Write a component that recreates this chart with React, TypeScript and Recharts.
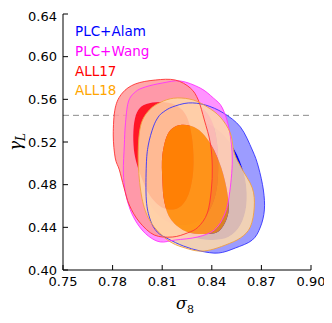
import React from 'react';
import { ScatterChart, Scatter, XAxis, YAxis, ReferenceLine } from 'recharts';

type Pt = [number, number];

const xTicks = [0.75, 0.78, 0.81, 0.84, 0.87, 0.9];
const yTicks = [0.4, 0.44, 0.48, 0.52, 0.56, 0.6, 0.64];
const gammaGR = 0.545;

const seriesNames = ['PLC+Alam', 'PLC+Wang', 'ALL17', 'ALL18'];

// 95% and 68% contours (sigma8, gamma_L)
const alamOuter: Pt[] = [
  [0.8046, 0.5341], [0.8076, 0.5434], [0.8107, 0.5481], [0.8161, 0.5528], [0.8258, 0.5566],
  [0.8361, 0.5547], [0.847, 0.5472], [0.8573, 0.5341], [0.8645, 0.5125], [0.8682, 0.4966],
  [0.8712, 0.475], [0.8718, 0.4563], [0.8694, 0.4403], [0.8645, 0.4281], [0.8542, 0.4206],
  [0.844, 0.4159], [0.833, 0.4178], [0.8228, 0.4225], [0.8137, 0.4291], [0.807, 0.4356],
  [0.8028, 0.4469], [0.8004, 0.4656], [0.8004, 0.4984], [0.8016, 0.5172],
];
const alamInner: Pt[] = [
  [0.8149, 0.5331], [0.827, 0.5406], [0.8391, 0.5359], [0.8482, 0.5247], [0.8554, 0.5078],
  [0.8603, 0.4844], [0.8609, 0.4609], [0.8573, 0.4422], [0.85, 0.4309], [0.8391, 0.4281],
  [0.827, 0.4319], [0.8161, 0.4422], [0.8089, 0.4609], [0.8076, 0.4891], [0.8101, 0.5172],
];
const wangOuter: Pt[] = [
  [0.7865, 0.4919], [0.7871, 0.5172], [0.7877, 0.5359], [0.7895, 0.5575], [0.7937, 0.5669],
  [0.7998, 0.5716], [0.8101, 0.5753], [0.821, 0.5772], [0.833, 0.5706], [0.8409, 0.5613],
  [0.8464, 0.5519], [0.8506, 0.5313], [0.8524, 0.5031], [0.8506, 0.4703], [0.8476, 0.4516],
  [0.8415, 0.4375], [0.8313, 0.4309], [0.8179, 0.4281], [0.8089, 0.4263], [0.8016, 0.4319],
  [0.7955, 0.4422], [0.7907, 0.4563], [0.7877, 0.4731],
];
const wangInner: Pt[] = [
  [0.798, 0.5359], [0.804, 0.5519], [0.8161, 0.5594], [0.83, 0.5556], [0.8391, 0.5425],
  [0.8433, 0.5172], [0.8433, 0.4797], [0.8379, 0.4544], [0.827, 0.4431], [0.8137, 0.445],
  [0.8028, 0.4609], [0.7968, 0.4891], [0.7955, 0.5144],
];
const all17Outer: Pt[] = [
  [0.7816, 0.5519], [0.7859, 0.5659], [0.7937, 0.5744], [0.8058, 0.5781], [0.8179, 0.5781],
  [0.827, 0.5706], [0.8318, 0.5594], [0.8355, 0.5406], [0.8391, 0.5191], [0.8403, 0.4966],
  [0.8397, 0.475], [0.8373, 0.4534], [0.8318, 0.4403], [0.8252, 0.4347], [0.8161, 0.4309],
  [0.8052, 0.4328], [0.7962, 0.4450], [0.7901, 0.4609], [0.7868, 0.4778], [0.7841, 0.4938],
  [0.7816, 0.505], [0.7804, 0.5266],
];
const all17Inner: Pt[] = [
  [0.7931, 0.5388], [0.7955, 0.55], [0.8004, 0.5556], [0.8089, 0.5575], [0.8179, 0.5547],
  [0.8246, 0.5444], [0.8282, 0.5219], [0.8288, 0.4938], [0.8258, 0.4703], [0.8197, 0.4581],
  [0.8107, 0.4581], [0.8028, 0.4694], [0.7974, 0.4872], [0.7937, 0.505], [0.7925, 0.5219],
];
const all18Outer: Pt[] = [
  [0.8107, 0.5584], [0.8191, 0.5613], [0.8288, 0.5594], [0.8373, 0.5528], [0.8451, 0.5434],
  [0.8512, 0.5284], [0.8536, 0.5097], [0.8579, 0.4956], [0.8645, 0.4769], [0.8657, 0.4591],
  [0.8633, 0.4403], [0.8573, 0.43], [0.8482, 0.4234], [0.8391, 0.4188], [0.8318, 0.4178],
  [0.824, 0.4206], [0.8161, 0.4253], [0.8089, 0.4338], [0.8016, 0.4488], [0.7974, 0.4703],
  [0.7955, 0.5031], [0.7968, 0.5341], [0.8022, 0.55],
];
const all18Inner: Pt[] = [
  [0.821, 0.5359], [0.8137, 0.5284], [0.8101, 0.5078], [0.8101, 0.4844], [0.8113, 0.4638],
  [0.8155, 0.4469], [0.8252, 0.4356], [0.8373, 0.4338], [0.8451, 0.4375], [0.85, 0.4534],
  [0.8494, 0.4722], [0.8458, 0.4956], [0.8397, 0.5172], [0.8313, 0.5322],
];

const contours = [
  { outer: alamOuter, inner: alamInner },
  { outer: wangOuter, inner: wangInner },
  { outer: all17Outer, inner: all17Inner },
  { outer: all18Outer, inner: all18Inner },
];

const textColors = ['#0000ff', '#ff00ff', '#ff0000', '#ffa500'];
const ringColors = ['#9c9cff', '#ff80ff', '#ff9a9a', '#ffdaa8'];
const coreColors = ['#0000ff', '#ff00ff', '#ff0000', '#ff9600'];
const edgeColors = ['#3333ff', '#ff33ff', '#ff3333', '#f0a040'];
const layerAlpha = [1, 0.85, 0.85, 0.85];

const toRows = (pts: Pt[]) => pts.map(([x, y]) => ({ x, y }));

// closed Catmull-Rom spline through screen points
function closedPath(pts: { x: number; y: number }[]) {
  const n = pts.length;
  if (!n) return '';
  let d = `M${pts[0].x},${pts[0].y}`;
  for (let i = 0; i < n; i++) {
    const p0 = pts[(i - 1 + n) % n];
    const p1 = pts[i];
    const p2 = pts[(i + 1) % n];
    const p3 = pts[(i + 2) % n];
    const c1x = p1.x + (p2.x - p0.x) / 6;
    const c1y = p1.y + (p2.y - p0.y) / 6;
    const c2x = p2.x - (p3.x - p1.x) / 6;
    const c2y = p2.y - (p3.y - p1.y) / 6;
    d += `C${c1x},${c1y} ${c2x},${c2y} ${p2.x},${p2.y}`;
  }
  return d + 'Z';
}

const fillShape = (split: number, fill: string, alpha: number) => (props: any) => {
  const pts = props.points || [];
  const d = split > 0 ? closedPath(pts.slice(0, split)) + closedPath(pts.slice(split)) : closedPath(pts);
  return <path d={d} fill={fill} fillOpacity={alpha} fillRule="evenodd" stroke="none" />;
};

const edgeShape = (stroke: string) => (props: any) => (
  <path d={closedPath(props.points || [])} fill="none" stroke={stroke} strokeWidth={0.9} />
);

const noDot = () => <g />;

const tickFont = { fill: '#000', fontSize: 13, fontFamily: 'DejaVu Sans' };

export default function App() {
  return (
    <div style={{ position: 'relative', width: 324, height: 315 }}>
      <ScatterChart width={324} height={315} margin={{ top: 6, right: 21, bottom: 0, left: 0 }}>
        <XAxis
          dataKey="x"
          type="number"
          domain={[0.75, 0.9]}
          ticks={xTicks}
          tickFormatter={(v: number) => v.toFixed(2)}
          allowDataOverflow
          height={53}
          stroke="#000"
          tickSize={-5}
          tickMargin={12}
          tick={tickFont}
        />
        <XAxis
          xAxisId="top"
          orientation="top"
          dataKey="x"
          type="number"
          domain={[0.75, 0.9]}
          ticks={xTicks}
          allowDataOverflow
          height={0}
          stroke="#000"
          tickSize={-5}
          tick={false}
        />
        <YAxis
          dataKey="y"
          type="number"
          domain={[0.4, 0.64]}
          ticks={yTicks}
          tickFormatter={(v: number) => v.toFixed(2)}
          allowDataOverflow
          width={55}
          stroke="#000"
          tickSize={-5}
          tickMargin={11}
          tick={tickFont}
        />
        <YAxis
          yAxisId="right"
          orientation="right"
          dataKey="y"
          type="number"
          domain={[0.4, 0.64]}
          ticks={yTicks}
          allowDataOverflow
          width={0}
          stroke="#000"
          tickSize={-5}
          tick={false}
        />

        {contours.map((c, i) => [
          <Scatter
            key={`ring-${i}`}
            name={`${seriesNames[i]} 95%`}
            data={toRows([...c.outer, ...c.inner])}
            shape={noDot}
            line={fillShape(c.outer.length, ringColors[i], layerAlpha[i])}
            lineType="joint"
            isAnimationActive={false}
          />,
          <Scatter
            key={`core-${i}`}
            name={`${seriesNames[i]} 68%`}
            data={toRows(c.inner)}
            shape={noDot}
            line={fillShape(0, coreColors[i], layerAlpha[i])}
            lineType="joint"
            isAnimationActive={false}
          />,
        ])}

        {contours.map((c, i) => (
          <Scatter
            key={`edge-${i}`}
            name={`${seriesNames[i]} edge`}
            data={toRows(c.outer)}
            shape={noDot}
            line={edgeShape(edgeColors[i])}
            lineType="joint"
            isAnimationActive={false}
          />
        ))}

        <ReferenceLine y={gammaGR} stroke="#8c8c8c" strokeDasharray="6 4" strokeWidth={1} />
      </ScatterChart>

      <svg
        width={332}
        height={323}
        style={{ position: 'absolute', left: -8, top: -8, pointerEvents: 'none' }}
      >
        {seriesNames.map((name, i) => (
          <text
            key={name}
            x={75}
            y={36 + i * 19.8}
            fill={textColors[i]}
            fontSize={13.5}
            fontFamily="DejaVu Sans"
          >
            {name}
          </text>
        ))}
        <text x={185} y={309} textAnchor="middle" fontFamily="DejaVu Serif" fontSize={16}>
          <tspan fontStyle="italic">σ</tspan>
          <tspan fontSize={11} dy={4}>8</tspan>
        </text>
        <text
          transform="translate(21,142) rotate(-90)"
          textAnchor="middle"
          fontFamily="DejaVu Serif"
          fontSize={17}
        >
          <tspan fontStyle="italic">γ</tspan>
          <tspan fontStyle="italic" fontSize={12} dy={4}>L</tspan>
        </text>
      </svg>
    </div>
  );
}
